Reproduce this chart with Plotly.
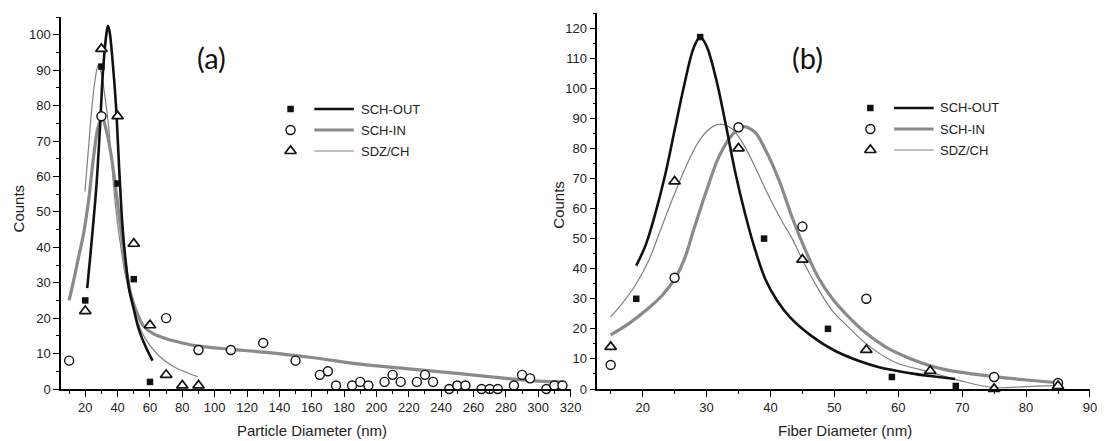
import plotly.graph_objects as go

# ---------------- data: panel (a) particle diameter ----------------
a_out_x = [20, 30, 40, 50, 60]
a_out_y = [25, 91, 58, 31, 2]
a_in_x = [10, 30, 70, 90, 110, 130, 150, 165, 170, 175, 185, 190, 195, 205, 210, 215,
          225, 230, 235, 245, 250, 255, 265, 270, 275, 285, 290, 295, 305, 310, 315]
a_in_y = [8, 77, 20, 11, 11, 13, 8, 4, 5, 1, 1, 2, 1, 2, 4, 2,
          2, 4, 2, 0, 1, 1, 0, 0, 0, 1, 4, 3, 0, 1, 1]
a_sdz_x = [20, 30, 40, 50, 60, 70, 80, 90]
a_sdz_y = [22, 96, 77, 41, 18, 4, 1, 1]

# fitted curves
a_out_fit_x = [21.2, 23, 25, 27, 29, 31, 33, 34, 35, 37, 39, 41, 43, 45, 47, 50, 53, 57, 61.6]
a_out_fit_y = [28.5, 37, 47, 58, 73, 90, 100, 102.5, 101, 92, 80, 62, 46, 36, 28.5, 22.5,
               17, 12.3, 8]
a_in_fit_x = [10, 13, 16, 19, 22, 25, 28, 30.5, 33, 36, 39, 42, 45, 48, 52, 56, 62, 70, 80,
              90, 110, 130, 160, 190, 220, 250, 280, 300, 316]
a_in_fit_y = [25, 31, 37.5, 44, 53, 65, 74, 76.5, 73, 66, 56, 45, 34.5, 27, 21.5, 17.8, 15.6,
              14.2, 13, 12.1, 11.2, 10.4, 8.9, 7, 5.7, 4.4, 3, 2.2, 2]
a_sdz_fit_x = [19.8, 22, 24, 26, 28, 30, 32, 34, 36, 38, 40, 42, 44, 46.3, 50, 55, 60, 65,
               70, 76.8, 83, 89.5]
a_sdz_fit_y = [55.7, 68, 79, 87, 91.4, 89, 83, 76, 66, 55, 46.5, 40, 34, 29, 22.5, 16,
               12.3, 9.6, 7.7, 5.8, 4.6, 3.5]

# ---------------- data: panel (b) fiber diameter ----------------
b_out_x = [19, 29, 39, 49, 59, 69]
b_out_y = [30, 117, 50, 20, 4, 1]
b_in_x = [15, 25, 35, 45, 55, 75, 85]
b_in_y = [8, 37, 87, 54, 30, 4, 2]
b_sdz_x = [15, 25, 35, 45, 55, 65, 75, 85]
b_sdz_y = [14, 69, 80, 43, 13, 6, 0, 1]

b_out_fit_x = [19, 20.5, 22, 23.5, 25, 26.5, 28, 29, 30, 31.5, 33, 34.5, 36, 37.5, 39.2, 41,
               43, 46.5, 50, 54, 57, 62, 65, 68.9]
b_out_fit_y = [41, 48, 58.5, 71, 86, 101, 113.5, 117, 114, 103, 88, 72, 58.5, 47, 36.5, 29.5,
               24, 17.5, 12.8, 9.2, 7.2, 5.2, 4.3, 3.3]
b_in_fit_x = [15, 18, 21, 23, 25, 26.5, 28, 30, 32, 34, 35.6, 37.5, 39.2, 41.3, 43.4, 45.5,
              47.5, 49.7, 52, 55, 58, 62, 67, 75, 80, 85.3]
b_in_fit_y = [18, 22, 27, 31, 36.5, 43, 53, 66, 77.5, 84.5, 87.2, 85.5, 79.5, 69.6, 57, 46,
              37, 30, 24.5, 18.5, 14, 10, 6.6, 4.1, 3, 2]
b_sdz_fit_x = [15, 17, 19, 21, 23, 25, 27, 29, 31, 32.5, 34, 36, 38, 40, 42, 43.4, 45, 47,
               49.7, 52, 55, 59.4, 65, 69.6, 74.8, 80, 85]
b_sdz_fit_y = [24, 29, 35, 43, 54, 65, 75, 83, 87.3, 88, 86.5, 80.5, 72, 63, 55, 50, 43,
               35, 26, 21, 15, 9, 5.6, 2.8, 0.5, 0.8, 1.2]

series_names = ["SCH-OUT", "SCH-IN", "SDZ/CH"]
panel_labels = ["(a)", "(b)"]
x_titles = ["Particle Diameter (nm)", "Fiber Diameter (nm)"]
y_title = "Counts"

# ---------------- styles ----------------
LINE_STYLE = [
    dict(color="#111111", width=2.6),
    dict(color="#8a8a8a", width=3.2),
    dict(color="#808080", width=1.2),
]
MARKER_STYLE = [
    dict(symbol="square", size=6.5, color="#111111", line=dict(width=0)),
    dict(symbol="circle", size=9, color="white", line=dict(color="#111111", width=1.4)),
    dict(symbol="triangle-up", size=10, color="white", line=dict(color="#111111", width=1.7)),
]
TICK_FONT = dict(family="Liberation Sans, Arial, sans-serif", size=13, color="#222222")
TITLE_FONT = dict(family="Liberation Sans, Arial, sans-serif", size=15, color="#222222")

L_M, R_M, T_M, B_M = 61, 9, 13, 52
W, H = 1110, 441
PW = W - L_M - R_M
PH = H - T_M - B_M


def px2paper(px, py):
    return (px - L_M) / PW, (H - B_M - py) / PH


fig = go.Figure()

panels = [
    ("x", "y",
     [(a_out_fit_x, a_out_fit_y), (a_in_fit_x, a_in_fit_y), (a_sdz_fit_x, a_sdz_fit_y)],
     [(a_out_x, a_out_y), (a_in_x, a_in_y), (a_sdz_x, a_sdz_y)]),
    ("x2", "y2",
     [(b_out_fit_x, b_out_fit_y), (b_in_fit_x, b_in_fit_y), (b_sdz_fit_x, b_sdz_fit_y)],
     [(b_out_x, b_out_y), (b_in_x, b_in_y), (b_sdz_x, b_sdz_y)]),
]

for xa, ya, fits, pts in panels:
    for i in [2, 1, 0]:
        fx, fy = fits[i]
        fig.add_trace(go.Scatter(x=fx, y=fy, mode="lines", xaxis=xa, yaxis=ya,
                                 line=dict(shape="spline", smoothing=1.0, **LINE_STYLE[i]),
                                 showlegend=False, hoverinfo="skip", cliponaxis=False))
    for i in [0, 1, 2]:
        px, py = pts[i]
        fig.add_trace(go.Scatter(x=px, y=py, mode="markers", xaxis=xa, yaxis=ya,
                                 marker=MARKER_STYLE[i], name=series_names[i],
                                 showlegend=False, cliponaxis=False))

# ---------------- legends (drawn in a pixel overlay axis) ----------------
LEGENDS = [dict(mx=293, lx0=317, lx1=357, tx=362, rows=[109, 130, 151]),
           dict(mx=879, lx0=903, lx1=943, tx=947, rows=[108, 129, 150])]
annotations = []
for lg in LEGENDS:
    for i, ry in enumerate(lg["rows"]):
        fig.add_trace(go.Scatter(x=[lg["mx"]], y=[ry], mode="markers", xaxis="x3", yaxis="y3",
                                 marker=MARKER_STYLE[i], showlegend=False, hoverinfo="skip",
                                 cliponaxis=False))
        fig.add_trace(go.Scatter(x=[lg["lx0"], lg["lx1"]], y=[ry, ry], mode="lines",
                                 xaxis="x3", yaxis="y3", line=LINE_STYLE[i],
                                 showlegend=False, hoverinfo="skip", cliponaxis=False))
        ax_, ay_ = px2paper(lg["tx"], ry)
        annotations.append(dict(x=ax_, y=ay_, xref="paper", yref="paper", text=series_names[i],
                                showarrow=False, xanchor="left", yanchor="middle",
                                font=dict(family="Liberation Sans, Arial, sans-serif",
                                          size=13, color="#222222")))

LABEL_POS = [(213, 58), (815, 58)]
for (lx, ly), t in zip(LABEL_POS, panel_labels):
    ax_, ay_ = px2paper(lx, ly)
    annotations.append(dict(x=ax_, y=ay_, xref="paper", yref="paper", text=t, showarrow=False,
                            xanchor="center", yanchor="middle",
                            font=dict(family="Lato, Open Sans, sans-serif", size=29,
                                      color="#111111")))
XT_POS = [(315, 430), (853, 430)]
for (lx, ly), t in zip(XT_POS, x_titles):
    ax_, ay_ = px2paper(lx, ly)
    annotations.append(dict(x=ax_, y=ay_, xref="paper", yref="paper", text=t, showarrow=False,
                            xanchor="center", yanchor="middle", font=TITLE_FONT))
YT_POS = [(19, 208), (563, 205)]
for (lx, ly) in YT_POS:
    ax_, ay_ = px2paper(lx, ly)
    annotations.append(dict(x=ax_, y=ay_, xref="paper", yref="paper", text=y_title,
                            showarrow=False, textangle=-90, xanchor="center",
                            yanchor="middle", font=TITLE_FONT))

axis_common = dict(showline=True, linecolor="black", linewidth=1.5, ticks="outside",
                   ticklen=6, tickwidth=1.3, tickcolor="black", showgrid=False,
                   zeroline=False, tickfont=TICK_FONT, mirror=False)
minor_common = dict(ticks="outside", ticklen=3, tickwidth=1.2, tickcolor="black", showgrid=False)

fig.update_layout(
    width=W, height=H,
    margin=dict(l=L_M, r=R_M, t=T_M, b=B_M),
    paper_bgcolor="white", plot_bgcolor="rgba(0,0,0,0)",
    showlegend=False,
    xaxis=dict(domain=[0, (576 - L_M) / PW], range=[5, 320], dtick=20, tick0=0,
               minor=dict(dtick=10, **minor_common), anchor="y", **axis_common),
    yaxis=dict(domain=[0, (389 - 17) / PH], range=[0, 105], dtick=10, tick0=0,
               minor=dict(dtick=5, **minor_common), anchor="x", **axis_common),
    xaxis2=dict(domain=[(603 - L_M) / PW, 1], range=[12.9, 90], dtick=10, tick0=0,
                minor=dict(dtick=5, **minor_common), anchor="y2", **axis_common),
    yaxis2=dict(domain=[0, 1], range=[0, 125], dtick=10, tick0=0,
                minor=dict(dtick=5, **minor_common), anchor="x2", **axis_common),
    xaxis3=dict(domain=[0, 1], range=[L_M, W - R_M], visible=False, anchor="y3"),
    yaxis3=dict(domain=[0, 1], range=[H - B_M, T_M], visible=False, anchor="x3"),
    annotations=annotations,
)

fig.write_html("out.html")
